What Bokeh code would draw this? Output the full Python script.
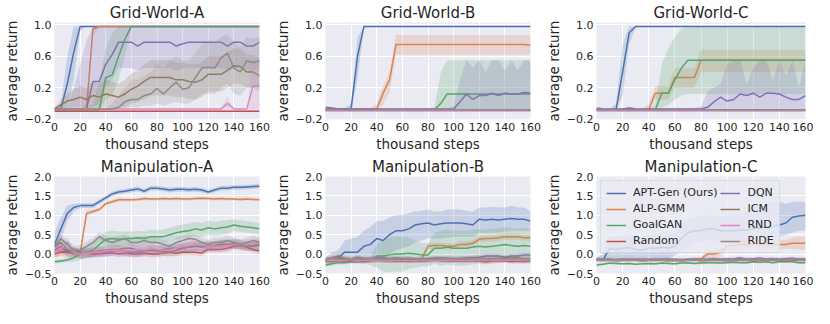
from bokeh.plotting import figure
from bokeh.layouts import row, column
from bokeh.models import FixedTicker, CustomJSTickFormatter, Legend, LegendItem, Range1d
from bokeh.embed import file_html
from bokeh.resources import INLINE

# ---------------- data ----------------
X = [0, 5, 10, 15, 20, 25, 30, 35, 40, 45, 50,
     55, 60, 65, 70, 75, 80, 85, 90, 95, 100, 105,
     110, 115, 120, 125, 130, 135, 140, 145, 150, 155, 160]
X_TICKS = [0, 20, 40, 60, 80, 100, 120, 140, 160]
GRID_Y_TICKS = [-0.2, 0.2, 0.6, 1.0]
MANIP_Y_TICKS = [-0.5, 0.0, 0.5, 1.0, 1.5, 2.0]
KEYS = ["apt", "alp", "goalgan", "random", "dqn", "icm", "rnd", "ride"]
NAMES = ["APT-Gen (Ours)", "ALP-GMM", "GoalGAN", "Random", "DQN", "ICM", "RND", "RIDE"]
COLORS = ["#4C72B0", "#DD8452", "#55A868", "#C44E52", "#8172B3", "#937860", "#DA8BC3", "#8C8C8C"]

# ---- Grid-World-A ----
gwa_mean = {
    "apt": [-0.07, -0.07, 0.25, 0.65, 0.98, 0.98, 0.98, 0.98, 0.98, 0.98, 0.98,
            0.98, 0.98, 0.98, 0.98, 0.98, 0.98, 0.98, 0.98, 0.98, 0.98, 0.98,
            0.98, 0.98, 0.98, 0.98, 0.98, 0.98, 0.98, 0.98, 0.98, 0.98, 0.98],
    "alp": [-0.07, -0.07, -0.07, -0.07, -0.07, -0.07, 0.95, 0.98, 0.98, 0.98, 0.98,
            0.98, 0.98, 0.98, 0.98, 0.98, 0.98, 0.98, 0.98, 0.98, 0.98, 0.98,
            0.98, 0.98, 0.98, 0.98, 0.98, 0.98, 0.98, 0.98, 0.98, 0.98, 0.98],
    "goalgan": [-0.08, -0.08, -0.08, -0.08, -0.08, -0.08, -0.08, -0.08, 0.33, 0.36, 0.6,
                0.82, 0.98, 0.98, 0.98, 0.98, 0.98, 0.98, 0.98, 0.98, 0.98, 0.98,
                0.98, 0.98, 0.98, 0.98, 0.98, 0.98, 0.98, 0.98, 0.98, 0.98, 0.98],
    "random": [-0.1, -0.1, -0.1, -0.1, -0.1, -0.1, -0.1, -0.1, -0.1, -0.1, -0.1,
               -0.1, -0.1, -0.1, -0.1, -0.1, -0.1, -0.1, -0.1, -0.1, -0.1, -0.1,
               -0.1, -0.1, -0.1, -0.1, -0.1, -0.1, -0.1, -0.1, -0.1, -0.1, -0.1],
    "dqn": [-0.07, -0.07, -0.07, -0.07, -0.07, -0.07, 0.28, 0.28, 0.5, 0.62, 0.78,
            0.78, 0.78, 0.73, 0.78, 0.78, 0.78, 0.78, 0.78, 0.73, 0.76, 0.78,
            0.78, 0.78, 0.78, 0.78, 0.78, 0.73, 0.78, 0.78, 0.73, 0.73, 0.78],
    "icm": [-0.07, -0.02, 0.03, 0.05, 0.08, 0.05, 0.1, 0.08, 0.12, 0.1, 0.08,
            0.12, 0.18, 0.22, 0.28, 0.33, 0.33, 0.33, 0.33, 0.3, 0.3, 0.28,
            0.27, 0.3, 0.37, 0.37, 0.37, 0.42, 0.48, 0.47, 0.4, 0.4, 0.35],
    "rnd": [-0.07, -0.07, -0.07, -0.07, -0.07, -0.07, -0.07, -0.07, -0.07, -0.07, -0.07,
            -0.07, -0.07, -0.07, -0.07, -0.07, -0.07, -0.07, -0.07, -0.07, -0.07, -0.07,
            -0.07, -0.07, -0.07, -0.07, -0.07, 0.0, -0.07, -0.07, -0.07, 0.22, 0.22],
    "ride": [-0.07, -0.07, -0.07, -0.07, -0.07, -0.07, -0.07, -0.07, -0.07, -0.07, -0.05,
             0.02, 0.05, 0.05, 0.1, 0.12, 0.19, 0.12, 0.2, 0.27, 0.18, 0.2,
             0.33, 0.45, 0.46, 0.45, 0.58, 0.64, 0.45, 0.4, 0.54, 0.52, 0.54],
}
gwa_lo = {
    "apt": [-0.08, -0.08, -0.05, 0.3, 0.92, 0.98, 0.98, 0.98, 0.98, 0.98, 0.98,
            0.98, 0.98, 0.98, 0.98, 0.98, 0.98, 0.98, 0.98, 0.98, 0.98, 0.98,
            0.98, 0.98, 0.98, 0.98, 0.98, 0.98, 0.98, 0.98, 0.98, 0.98, 0.98],
    "alp": [-0.08, -0.08, -0.08, -0.08, -0.08, -0.08, 0.85, 0.98, 0.98, 0.98, 0.98,
            0.98, 0.98, 0.98, 0.98, 0.98, 0.98, 0.98, 0.98, 0.98, 0.98, 0.98,
            0.98, 0.98, 0.98, 0.98, 0.98, 0.98, 0.98, 0.98, 0.98, 0.98, 0.98],
    "goalgan": [-0.09, -0.09, -0.09, -0.09, -0.09, -0.09, -0.09, -0.09, 0.05, 0.1, 0.3,
                0.6, 0.95, 0.98, 0.98, 0.98, 0.98, 0.98, 0.98, 0.98, 0.98, 0.98,
                0.98, 0.98, 0.98, 0.98, 0.98, 0.98, 0.98, 0.98, 0.98, 0.98, 0.98],
    "dqn": [-0.08, -0.08, -0.08, -0.08, -0.08, -0.08, -0.05, 0.0, 0.2, 0.3, 0.45,
            0.45, 0.45, 0.42, 0.45, 0.45, 0.45, 0.45, 0.45, 0.42, 0.44, 0.45,
            0.45, 0.45, 0.45, 0.45, 0.45, 0.42, 0.45, 0.45, 0.42, 0.42, 0.45],
    "icm": [-0.08, -0.07, -0.06, -0.05, -0.05, -0.06, -0.05, -0.06, -0.05, -0.06, -0.06,
            -0.05, 0.0, 0.02, 0.05, 0.1, 0.1, 0.1, 0.1, 0.08, 0.08, 0.06,
            0.05, 0.08, 0.15, 0.15, 0.15, 0.2, 0.25, 0.25, 0.2, 0.2, 0.15],
    "rnd": [-0.08, -0.08, -0.08, -0.08, -0.08, -0.08, -0.08, -0.08, -0.08, -0.08, -0.08,
            -0.08, -0.08, -0.08, -0.08, -0.08, -0.08, -0.08, -0.08, -0.08, -0.08, -0.08,
            -0.08, -0.08, -0.08, -0.08, -0.08, -0.08, -0.08, -0.08, -0.08, -0.07, -0.07],
    "ride": [-0.08, -0.08, -0.08, -0.08, -0.08, -0.08, -0.08, -0.08, -0.08, -0.08, -0.07,
             -0.06, -0.05, -0.05, -0.03, -0.03, 0.0, -0.03, 0.0, 0.02, 0.0, 0.0,
             0.05, 0.12, 0.12, 0.12, 0.2, 0.25, 0.12, 0.1, 0.2, 0.2, 0.2],
}
gwa_hi = {
    "apt": [-0.06, 0.0, 0.6, 0.98, 0.98, 0.98, 0.98, 0.98, 0.98, 0.98, 0.98,
            0.98, 0.98, 0.98, 0.98, 0.98, 0.98, 0.98, 0.98, 0.98, 0.98, 0.98,
            0.98, 0.98, 0.98, 0.98, 0.98, 0.98, 0.98, 0.98, 0.98, 0.98, 0.98],
    "alp": [-0.06, -0.06, -0.06, -0.06, -0.06, 0.0, 0.98, 0.98, 0.98, 0.98, 0.98,
            0.98, 0.98, 0.98, 0.98, 0.98, 0.98, 0.98, 0.98, 0.98, 0.98, 0.98,
            0.98, 0.98, 0.98, 0.98, 0.98, 0.98, 0.98, 0.98, 0.98, 0.98, 0.98],
    "goalgan": [-0.07, -0.07, -0.07, -0.07, -0.07, -0.07, 0.0, 0.3, 0.7, 0.9, 0.98,
                0.98, 0.98, 0.98, 0.98, 0.98, 0.98, 0.98, 0.98, 0.98, 0.98, 0.98,
                0.98, 0.98, 0.98, 0.98, 0.98, 0.98, 0.98, 0.98, 0.98, 0.98, 0.98],
    "dqn": [-0.06, -0.06, -0.06, 0.2, 0.5, 0.8, 0.98, 0.98, 0.98, 0.98, 0.98,
            0.98, 0.98, 0.98, 0.98, 0.98, 0.98, 0.98, 0.98, 0.98, 0.98, 0.98,
            0.98, 0.98, 0.98, 0.98, 0.98, 0.98, 0.98, 0.98, 0.98, 0.98, 0.98],
    "icm": [-0.06, 0.05, 0.12, 0.18, 0.22, 0.2, 0.28, 0.25, 0.3, 0.28, 0.25,
            0.3, 0.38, 0.42, 0.5, 0.55, 0.55, 0.55, 0.55, 0.52, 0.52, 0.5,
            0.5, 0.52, 0.6, 0.6, 0.6, 0.65, 0.7, 0.7, 0.62, 0.62, 0.58],
    "rnd": [-0.06, -0.06, -0.06, -0.06, -0.06, -0.06, -0.06, -0.06, -0.06, -0.06, -0.06,
            -0.06, -0.06, -0.06, -0.06, -0.06, -0.06, -0.06, -0.06, -0.06, -0.06, -0.06,
            -0.06, -0.06, -0.06, -0.06, -0.06, 0.08, -0.06, -0.06, -0.06, 0.55, 0.55],
    "ride": [-0.06, -0.06, -0.06, -0.06, -0.06, -0.06, -0.06, -0.06, -0.06, 0.0, 0.1,
             0.2, 0.3, 0.3, 0.35, 0.4, 0.5, 0.45, 0.55, 0.6, 0.55, 0.55,
             0.65, 0.75, 0.8, 0.78, 0.85, 0.88, 0.78, 0.72, 0.85, 0.82, 0.85],
}
gwa_half = {"random": 0.01}

# ---- Grid-World-B ----
gwb_mean = {
    "apt": [-0.07, -0.07, -0.07, -0.07, -0.07, 0.6, 0.98, 0.98, 0.98, 0.98, 0.98,
            0.98, 0.98, 0.98, 0.98, 0.98, 0.98, 0.98, 0.98, 0.98, 0.98, 0.98,
            0.98, 0.98, 0.98, 0.98, 0.98, 0.98, 0.98, 0.98, 0.98, 0.98, 0.98],
    "alp": [-0.07, -0.07, -0.07, -0.07, -0.07, -0.07, -0.07, -0.07, -0.07, 0.13, 0.3,
            0.75, 0.75, 0.75, 0.75, 0.75, 0.75, 0.75, 0.75, 0.75, 0.75, 0.75,
            0.75, 0.75, 0.75, 0.75, 0.75, 0.75, 0.75, 0.75, 0.75, 0.75, 0.74],
    "goalgan": [-0.08, -0.08, -0.08, -0.08, -0.08, -0.08, -0.08, -0.08, -0.08, -0.08, -0.08,
                -0.08, -0.08, -0.08, -0.08, -0.08, -0.08, -0.08, 0.0, 0.12, 0.12, 0.12,
                0.12, 0.12, 0.12, 0.12, 0.12, 0.12, 0.12, 0.12, 0.12, 0.12, 0.12],
    "random": [-0.09, -0.09, -0.09, -0.09, -0.09, -0.09, -0.09, -0.09, -0.09, -0.09, -0.09,
               -0.09, -0.09, -0.09, -0.09, -0.09, -0.09, -0.09, -0.09, -0.09, -0.09, -0.09,
               -0.09, -0.09, -0.09, -0.09, -0.09, -0.09, -0.09, -0.09, -0.09, -0.09, -0.09],
    "dqn": [-0.05, -0.06, -0.07, -0.07, -0.07, -0.07, -0.07, -0.07, -0.07, -0.07, -0.07,
            -0.07, -0.07, -0.07, -0.07, -0.07, -0.07, -0.07, -0.07, -0.07, -0.07, 0.02,
            0.12, 0.05, 0.1, 0.1, 0.13, 0.1, 0.13, 0.12, 0.12, 0.14, 0.13],
    "icm": [-0.08, -0.08, -0.08, -0.08, -0.08, -0.08, -0.08, -0.08, -0.08, -0.08, -0.08,
            -0.08, -0.08, -0.08, -0.08, -0.08, -0.08, -0.08, -0.08, -0.08, -0.08, -0.08,
            -0.08, -0.08, -0.08, -0.08, -0.08, -0.08, -0.08, -0.08, -0.08, -0.08, -0.08],
    "rnd": [-0.09, -0.09, -0.09, -0.09, -0.09, -0.09, -0.09, -0.09, -0.09, -0.09, -0.09,
            -0.09, -0.09, -0.09, -0.09, -0.09, -0.09, -0.09, -0.09, -0.09, -0.09, -0.09,
            -0.09, -0.09, -0.09, -0.09, -0.09, -0.09, -0.09, -0.09, -0.09, -0.09, -0.09],
    "ride": [-0.08, -0.08, -0.08, -0.08, -0.08, -0.08, -0.08, -0.08, -0.08, -0.08, -0.08,
             -0.08, -0.08, -0.08, -0.08, -0.08, -0.08, -0.08, -0.08, -0.08, -0.08, -0.08,
             -0.08, -0.08, -0.08, -0.08, -0.08, -0.08, -0.08, -0.08, -0.08, -0.08, -0.08],
}
gwb_lo = {
    "apt": [-0.08, -0.08, -0.08, -0.08, -0.08, 0.3, 0.96, 0.98, 0.98, 0.98, 0.98,
            0.98, 0.98, 0.98, 0.98, 0.98, 0.98, 0.98, 0.98, 0.98, 0.98, 0.98,
            0.98, 0.98, 0.98, 0.98, 0.98, 0.98, 0.98, 0.98, 0.98, 0.98, 0.98],
    "alp": [-0.08, -0.08, -0.08, -0.08, -0.08, -0.08, -0.08, -0.08, -0.08, -0.02, 0.15,
            0.62, 0.62, 0.62, 0.62, 0.62, 0.62, 0.62, 0.62, 0.62, 0.62, 0.62,
            0.62, 0.62, 0.62, 0.62, 0.62, 0.62, 0.62, 0.62, 0.62, 0.62, 0.62],
    "goalgan": [-0.09, -0.09, -0.09, -0.09, -0.09, -0.09, -0.09, -0.09, -0.09, -0.09, -0.09,
                -0.09, -0.09, -0.09, -0.09, -0.09, -0.09, -0.09, -0.09, -0.09, -0.09, -0.09,
                -0.09, -0.09, -0.09, -0.09, -0.09, -0.09, -0.09, -0.09, -0.09, -0.09, -0.09],
    "dqn": [-0.08, -0.08, -0.08, -0.08, -0.08, -0.08, -0.08, -0.08, -0.08, -0.08, -0.08,
            -0.08, -0.08, -0.08, -0.08, -0.08, -0.08, -0.08, -0.08, -0.08, -0.08, -0.08,
            -0.08, -0.08, -0.08, -0.08, -0.08, -0.08, -0.08, -0.08, -0.08, -0.08, -0.08],
}
gwb_hi = {
    "apt": [-0.06, -0.06, -0.06, -0.06, 0.0, 0.85, 0.98, 0.98, 0.98, 0.98, 0.98,
            0.98, 0.98, 0.98, 0.98, 0.98, 0.98, 0.98, 0.98, 0.98, 0.98, 0.98,
            0.98, 0.98, 0.98, 0.98, 0.98, 0.98, 0.98, 0.98, 0.98, 0.98, 0.98],
    "alp": [-0.06, -0.06, -0.06, -0.06, -0.06, -0.06, -0.06, -0.06, 0.0, 0.22, 0.4,
            0.87, 0.87, 0.87, 0.87, 0.87, 0.87, 0.87, 0.87, 0.87, 0.87, 0.87,
            0.87, 0.87, 0.87, 0.87, 0.87, 0.87, 0.87, 0.87, 0.87, 0.87, 0.87],
    "goalgan": [-0.07, -0.07, -0.07, -0.07, -0.07, -0.07, -0.07, -0.07, -0.07, -0.07, -0.07,
                -0.07, -0.07, -0.07, -0.07, -0.07, -0.07, -0.05, 0.4, 0.55, 0.55, 0.55,
                0.55, 0.55, 0.55, 0.55, 0.55, 0.55, 0.55, 0.55, 0.55, 0.55, 0.55],
    "dqn": [-0.04, -0.05, -0.06, -0.06, -0.06, -0.06, -0.06, -0.06, -0.06, -0.06, -0.06,
            -0.06, -0.06, -0.06, -0.06, -0.06, -0.06, -0.06, -0.06, -0.06, -0.04, 0.3,
            0.55, 0.45, 0.55, 0.4, 0.55, 0.55, 0.42, 0.55, 0.42, 0.55, 0.55],
}
gwb_half = {"random": 0.01, "icm": 0.01, "rnd": 0.01, "ride": 0.01}

# ---- Grid-World-C ----
gwc_mean = {
    "apt": [-0.08, -0.08, -0.08, -0.08, 0.4, 0.9, 0.98, 0.98, 0.98, 0.98, 0.98,
            0.98, 0.98, 0.98, 0.98, 0.98, 0.98, 0.98, 0.98, 0.98, 0.98, 0.98,
            0.98, 0.98, 0.98, 0.98, 0.98, 0.98, 0.98, 0.98, 0.98, 0.98, 0.98],
    "alp": [-0.08, -0.08, -0.08, -0.08, -0.08, -0.08, -0.08, -0.08, -0.08, 0.13, 0.13,
            0.13, 0.33, 0.33, 0.33, 0.33, 0.55, 0.55, 0.55, 0.55, 0.55, 0.55,
            0.55, 0.55, 0.55, 0.55, 0.55, 0.55, 0.55, 0.55, 0.55, 0.55, 0.55],
    "goalgan": [-0.08, -0.08, -0.08, -0.08, -0.08, -0.08, -0.08, -0.08, -0.08, -0.08, 0.13,
                0.13, 0.3, 0.45, 0.55, 0.55, 0.55, 0.55, 0.55, 0.55, 0.55, 0.55,
                0.55, 0.55, 0.55, 0.55, 0.55, 0.55, 0.55, 0.55, 0.55, 0.55, 0.55],
    "random": [-0.09, -0.09, -0.09, -0.09, -0.09, -0.09, -0.09, -0.09, -0.09, -0.09, -0.09,
               -0.09, -0.09, -0.09, -0.09, -0.09, -0.09, -0.09, -0.09, -0.09, -0.09, -0.09,
               -0.09, -0.09, -0.09, -0.09, -0.09, -0.09, -0.09, -0.09, -0.09, -0.09, -0.09],
    "dqn": [-0.06, -0.07, -0.07, -0.07, -0.07, -0.06, -0.07, -0.07, -0.07, -0.07, -0.07,
            -0.07, -0.07, -0.07, -0.07, -0.07, -0.07, -0.05, 0.02, 0.08, 0.03, 0.05,
            0.12, 0.1, 0.13, 0.08, 0.13, 0.13, 0.12, 0.08, 0.05, 0.05, 0.1],
    "icm": [-0.08, -0.08, -0.08, -0.08, -0.08, -0.08, -0.08, -0.08, -0.08, -0.08, -0.08,
            -0.08, -0.08, -0.08, -0.08, -0.08, -0.08, -0.08, -0.08, -0.08, -0.08, -0.08,
            -0.08, -0.08, -0.08, -0.08, -0.08, -0.08, -0.08, -0.08, -0.08, -0.08, -0.08],
    "rnd": [-0.09, -0.09, -0.09, -0.09, -0.09, -0.09, -0.09, -0.09, -0.09, -0.09, -0.09,
            -0.09, -0.09, -0.09, -0.09, -0.09, -0.09, -0.09, -0.09, -0.09, -0.09, -0.09,
            -0.09, -0.09, -0.09, -0.09, -0.09, -0.09, -0.09, -0.09, -0.09, -0.09, -0.09],
    "ride": [-0.08, -0.08, -0.08, -0.08, -0.08, -0.08, -0.08, -0.08, -0.08, -0.08, -0.08,
             -0.08, -0.08, -0.08, -0.08, -0.08, -0.08, -0.08, -0.08, -0.08, -0.08, -0.08,
             -0.08, -0.08, -0.08, -0.08, -0.08, -0.08, -0.08, -0.08, -0.08, -0.08, -0.08],
}
gwc_lo = {
    "apt": [-0.09, -0.09, -0.09, -0.09, 0.1, 0.75, 0.98, 0.98, 0.98, 0.98, 0.98,
            0.98, 0.98, 0.98, 0.98, 0.98, 0.98, 0.98, 0.98, 0.98, 0.98, 0.98,
            0.98, 0.98, 0.98, 0.98, 0.98, 0.98, 0.98, 0.98, 0.98, 0.98, 0.98],
    "alp": [-0.09, -0.09, -0.09, -0.09, -0.09, -0.09, -0.09, -0.09, -0.09, 0.05, 0.05,
            0.05, 0.2, 0.2, 0.2, 0.2, 0.4, 0.4, 0.4, 0.4, 0.4, 0.4,
            0.4, 0.4, 0.4, 0.4, 0.4, 0.4, 0.4, 0.4, 0.4, 0.4, 0.4],
    "goalgan": [-0.09, -0.09, -0.09, -0.09, -0.09, -0.09, -0.09, -0.09, -0.09, -0.09, -0.05,
                -0.02, 0.05, 0.1, 0.12, 0.12, 0.12, 0.12, 0.12, 0.12, 0.12, 0.12,
                0.12, 0.12, 0.12, 0.12, 0.12, 0.12, 0.12, 0.12, 0.12, 0.12, 0.12],
    "dqn": [-0.08, -0.08, -0.08, -0.08, -0.08, -0.08, -0.08, -0.08, -0.08, -0.08, -0.08,
            -0.08, -0.08, -0.08, -0.08, -0.08, -0.08, -0.08, -0.08, -0.08, -0.08, -0.08,
            -0.08, -0.08, -0.08, -0.08, -0.08, -0.08, -0.08, -0.08, -0.08, -0.08, -0.08],
}
gwc_hi = {
    "apt": [-0.07, -0.07, -0.07, 0.0, 0.75, 0.98, 0.98, 0.98, 0.98, 0.98, 0.98,
            0.98, 0.98, 0.98, 0.98, 0.98, 0.98, 0.98, 0.98, 0.98, 0.98, 0.98,
            0.98, 0.98, 0.98, 0.98, 0.98, 0.98, 0.98, 0.98, 0.98, 0.98, 0.98],
    "alp": [-0.07, -0.07, -0.07, -0.07, -0.07, -0.07, -0.07, -0.07, 0.0, 0.22, 0.22,
            0.22, 0.45, 0.45, 0.45, 0.45, 0.68, 0.68, 0.68, 0.68, 0.68, 0.68,
            0.68, 0.68, 0.68, 0.68, 0.68, 0.68, 0.68, 0.68, 0.68, 0.68, 0.68],
    "goalgan": [-0.07, -0.07, -0.07, -0.07, -0.07, -0.07, -0.07, -0.07, -0.07, 0.0, 0.5,
                0.7, 0.85, 0.95, 0.98, 0.98, 0.98, 0.98, 0.98, 0.98, 0.98, 0.98,
                0.98, 0.98, 0.98, 0.98, 0.98, 0.98, 0.98, 0.98, 0.98, 0.98, 0.98],
    "dqn": [-0.05, -0.06, -0.06, -0.06, -0.06, -0.05, -0.06, -0.06, -0.06, -0.06, -0.06,
            -0.06, -0.06, -0.06, -0.06, -0.06, -0.04, 0.15, 0.2, 0.25, 0.5, 0.55,
            0.55, 0.25, 0.45, 0.55, 0.55, 0.3, 0.55, 0.35, 0.55, 0.2, 0.55],
}
gwc_half = {"random": 0.01, "icm": 0.01, "rnd": 0.01, "ride": 0.01}

# ---- Manipulation-A ----
ma_mean = {
    "apt": [0.25, 0.65, 1.05, 1.2, 1.25, 1.25, 1.25, 1.35, 1.45, 1.55, 1.6,
            1.62, 1.65, 1.68, 1.62, 1.7, 1.7, 1.68, 1.65, 1.67, 1.67, 1.66,
            1.67, 1.65, 1.6, 1.65, 1.7, 1.7, 1.72, 1.72, 1.73, 1.74, 1.75],
    "alp": [0.05, 0.1, 0.05, 0.0, 0.02, 1.05, 1.1, 1.15, 1.3, 1.35, 1.4,
            1.4, 1.4, 1.41, 1.43, 1.42, 1.42, 1.43, 1.42, 1.43, 1.42, 1.42,
            1.43, 1.44, 1.43, 1.42, 1.43, 1.42, 1.42, 1.41, 1.42, 1.41, 1.4],
    "goalgan": [-0.2, -0.18, -0.15, -0.1, 0.0, 0.05, 0.1, 0.25, 0.38, 0.4, 0.38,
                0.4, 0.4, 0.42, 0.4, 0.45, 0.45, 0.45, 0.5, 0.55, 0.58, 0.6,
                0.65, 0.62, 0.68, 0.65, 0.68, 0.7, 0.75, 0.72, 0.7, 0.68, 0.65],
    "random": [0.0, 0.05, 0.05, 0.1, 0.05, 0.02, 0.0, 0.0, 0.02, 0.03, 0.0,
               0.02, 0.0, 0.0, 0.02, 0.0, 0.0, 0.03, 0.05, 0.02, 0.05, 0.05,
               0.05, 0.03, 0.12, 0.12, 0.12, 0.15, 0.2, 0.22, 0.18, 0.12, 0.08],
    "dqn": [0.1, 0.2, 0.05, 0.05, 0.0, 0.02, 0.05, 0.05, 0.05, 0.08, 0.1,
            0.08, 0.05, 0.05, 0.08, 0.1, 0.1, 0.12, 0.15, 0.15, 0.15, 0.18,
            0.2, 0.18, 0.2, 0.22, 0.25, 0.25, 0.28, 0.25, 0.2, 0.22, 0.25],
    "icm": [0.2, 0.3, 0.1, 0.05, 0.02, 0.03, 0.05, 0.08, 0.1, 0.12, 0.12,
            0.15, 0.15, 0.1, 0.1, 0.1, 0.08, 0.08, 0.05, 0.1, 0.15, 0.18,
            0.2, 0.2, 0.22, 0.2, 0.25, 0.25, 0.25, 0.22, 0.2, 0.2, 0.22],
    "rnd": [0.05, 0.15, 0.3, 0.05, 0.0, 0.02, 0.05, 0.05, 0.08, 0.1, 0.1,
            0.08, 0.1, 0.12, 0.1, 0.15, 0.12, 0.1, 0.12, 0.15, 0.2, 0.22,
            0.25, 0.22, 0.2, 0.2, 0.2, 0.22, 0.25, 0.25, 0.25, 0.28, 0.3],
    "ride": [0.2, 0.4, 0.25, 0.1, 0.1, 0.2, 0.3, 0.45, 0.35, 0.3, 0.35,
             0.4, 0.3, 0.3, 0.35, 0.3, 0.3, 0.25, 0.2, 0.3, 0.35, 0.4,
             0.38, 0.3, 0.25, 0.3, 0.3, 0.35, 0.3, 0.25, 0.3, 0.35, 0.3],
}
ma_lo = {}
ma_hi = {}
ma_half = {
    "apt": [0.3, 0.3, 0.2, 0.1, 0.06, 0.06, 0.06, 0.06, 0.06, 0.06, 0.06,
            0.06, 0.06, 0.06, 0.06, 0.06, 0.06, 0.06, 0.06, 0.06, 0.06, 0.06,
            0.06, 0.06, 0.06, 0.06, 0.06, 0.06, 0.06, 0.06, 0.06, 0.06, 0.06],
    "alp": [0.15, 0.15, 0.15, 0.1, 0.1, 0.1, 0.05, 0.05, 0.05, 0.05, 0.05,
            0.04, 0.04, 0.04, 0.04, 0.04, 0.04, 0.04, 0.04, 0.04, 0.04, 0.04,
            0.04, 0.04, 0.04, 0.04, 0.04, 0.04, 0.04, 0.04, 0.04, 0.04, 0.04],
    "goalgan": [0.05, 0.05, 0.05, 0.1, 0.15, 0.15, 0.2, 0.2, 0.2, 0.2, 0.2,
                0.18, 0.18, 0.18, 0.18, 0.18, 0.18, 0.18, 0.18, 0.18, 0.18, 0.18,
                0.18, 0.18, 0.18, 0.18, 0.18, 0.18, 0.15, 0.15, 0.15, 0.15, 0.15],
    "random": 0.08, "dqn": 0.12, "icm": 0.12, "rnd": 0.12, "ride": 0.12,
}

# ---- Manipulation-B ----
mb_mean = {
    "apt": [-0.2, -0.15, -0.1, 0.05, 0.05, 0.05, 0.2, 0.25, 0.4, 0.35, 0.5,
            0.6, 0.6, 0.65, 0.75, 0.78, 0.8, 0.75, 0.78, 0.8, 0.8, 0.8,
            0.78, 0.75, 0.9, 0.88, 0.9, 0.88, 0.9, 0.92, 0.9, 0.9, 0.85],
    "alp": [-0.15, -0.15, -0.12, -0.15, -0.15, -0.15, -0.15, -0.15, -0.15, -0.12, -0.15,
            -0.15, -0.15, -0.15, -0.15, -0.12, 0.2, 0.22, 0.22, 0.2, 0.2, 0.25,
            0.25, 0.28, 0.38, 0.4, 0.4, 0.42, 0.45, 0.45, 0.45, 0.42, 0.42],
    "goalgan": [-0.28, -0.25, -0.22, -0.22, -0.2, -0.2, -0.2, -0.18, -0.05, -0.05, -0.02,
                0.0, 0.0, 0.02, 0.0, -0.02, -0.02, 0.15, 0.15, 0.18, 0.15, 0.15,
                0.15, 0.18, 0.2, 0.18, 0.2, 0.22, 0.25, 0.22, 0.2, 0.22, 0.2],
    "random": [-0.17, -0.18, -0.17, -0.18, -0.17, -0.18, -0.18, -0.17, -0.16, -0.17, -0.18,
               -0.17, -0.18, -0.18, -0.17, -0.18, -0.17, -0.16, -0.17, -0.18, -0.18, -0.17,
               -0.18, -0.17, -0.18, -0.2, -0.18, -0.17, -0.18, -0.19, -0.18, -0.19, -0.18],
    "dqn": [-0.15, -0.15, -0.1, -0.12, -0.15, -0.15, -0.15, -0.12, -0.1, -0.1, -0.12,
            -0.1, -0.12, -0.12, -0.15, -0.15, -0.12, -0.1, -0.1, -0.12, -0.12, -0.12,
            -0.1, -0.1, -0.08, -0.05, -0.05, -0.05, -0.08, -0.05, -0.05, -0.02, -0.02],
    "icm": [-0.15, -0.1, -0.05, -0.12, -0.15, -0.08, -0.12, -0.15, -0.12, -0.12, -0.15,
            -0.15, -0.12, -0.12, -0.15, -0.15, -0.15, -0.12, -0.12, -0.12, -0.12, -0.12,
            -0.12, -0.1, -0.1, -0.12, -0.12, -0.12, -0.1, -0.1, -0.1, -0.12, -0.12],
    "rnd": [-0.18, -0.15, -0.17, -0.16, -0.15, -0.17, -0.16, -0.15, -0.16, -0.16, -0.17,
            -0.16, -0.15, -0.16, -0.17, -0.16, -0.16, -0.15, -0.16, -0.16, -0.15, -0.16,
            -0.15, -0.16, -0.15, -0.15, -0.16, -0.15, -0.16, -0.15, -0.16, -0.16, -0.15],
    "ride": [-0.15, -0.1, -0.12, -0.13, -0.15, -0.1, -0.13, -0.12, -0.12, -0.13, -0.12,
             -0.12, -0.13, -0.12, -0.13, -0.12, -0.12, -0.13, -0.12, -0.11, -0.12, -0.12,
             -0.12, -0.12, -0.11, -0.12, -0.12, -0.11, -0.12, -0.12, -0.12, -0.12, -0.12],
}
mb_lo = {
    "apt": [-0.3, -0.25, -0.25, -0.2, -0.2, -0.2, -0.15, -0.1, -0.05, -0.1, 0.0,
            0.1, 0.15, 0.2, 0.3, 0.35, 0.4, 0.4, 0.4, 0.42, 0.45, 0.45,
            0.45, 0.45, 0.55, 0.55, 0.55, 0.55, 0.58, 0.6, 0.6, 0.6, 0.6],
}
mb_hi = {
    "apt": [-0.1, 0.05, 0.1, 0.35, 0.4, 0.45, 0.6, 0.7, 0.85, 0.85, 0.95,
            1.0, 1.0, 1.05, 1.1, 1.12, 1.15, 1.1, 1.1, 1.15, 1.15, 1.15,
            1.12, 1.1, 1.2, 1.2, 1.22, 1.2, 1.2, 1.25, 1.2, 1.2, 1.1],
}
mb_half = {
    "alp": 0.08,
    "goalgan": [0.05, 0.05, 0.05, 0.05, 0.05, 0.05, 0.05, 0.1, 0.3, 0.4, 0.45,
                0.45, 0.45, 0.4, 0.35, 0.3, 0.3, 0.4, 0.45, 0.45, 0.45, 0.45,
                0.45, 0.45, 0.45, 0.45, 0.45, 0.45, 0.45, 0.45, 0.45, 0.45, 0.45],
    "random": 0.05, "dqn": 0.06, "icm": 0.06, "rnd": 0.05, "ride": 0.05,
}

# ---- Manipulation-C ----
mc_mean = {
    "apt": [-0.15, -0.15, 0.15, 0.12, 0.15, 0.17, 0.12, 0.1, 0.15, 0.15, 0.18,
            0.15, 0.2, 0.4, 0.55, 0.6, 0.6, 0.65, 0.65, 0.6, 0.6, 0.6,
            0.62, 0.62, 0.65, 0.68, 0.7, 0.72, 0.75, 0.8, 0.95, 0.98, 1.0],
    "alp": [-0.15, -0.15, -0.15, -0.15, -0.15, -0.15, -0.15, -0.15, -0.15, -0.15, -0.15,
            -0.15, -0.15, -0.15, -0.15, -0.15, -0.12, 0.0, 0.0, 0.05, 0.2, 0.22,
            0.25, 0.25, 0.25, 0.24, 0.25, 0.25, 0.25, 0.25, 0.28, 0.28, 0.28],
    "goalgan": [-0.28, -0.26, -0.23, -0.24, -0.25, -0.24, -0.26, -0.25, -0.24, -0.25, -0.23,
                -0.24, -0.25, -0.23, -0.22, -0.24, -0.23, -0.22, -0.22, -0.23, -0.22, -0.21,
                -0.22, -0.22, -0.2, -0.21, -0.2, -0.22, -0.2, -0.2, -0.2, -0.22, -0.22],
    "random": [-0.15, -0.16, -0.15, -0.17, -0.16, -0.15, -0.16, -0.17, -0.16, -0.15, -0.16,
               -0.17, -0.16, -0.17, -0.16, -0.15, -0.17, -0.16, -0.15, -0.16, -0.17, -0.16,
               -0.15, -0.16, -0.17, -0.15, -0.16, -0.15, -0.16, -0.17, -0.16, -0.15, -0.16],
    "dqn": [-0.12, -0.14, -0.13, -0.15, -0.14, -0.13, -0.14, -0.15, -0.14, -0.13, -0.14,
            -0.13, -0.14, -0.15, -0.14, -0.13, -0.14, -0.13, -0.12, -0.14, -0.13, -0.12,
            -0.1, -0.13, -0.12, -0.11, -0.13, -0.12, -0.13, -0.12, -0.11, -0.13, -0.12],
    "icm": [-0.14, -0.15, -0.14, -0.15, -0.16, -0.15, -0.14, -0.15, -0.16, -0.15, -0.14,
            -0.15, -0.16, -0.15, -0.14, -0.15, -0.14, -0.15, -0.16, -0.15, -0.14, -0.15,
            -0.14, -0.15, -0.14, -0.12, -0.15, -0.14, -0.15, -0.14, -0.15, -0.14, -0.15],
    "rnd": [-0.15, -0.14, -0.15, -0.16, -0.15, -0.14, -0.15, -0.14, -0.15, -0.16, -0.15,
            -0.14, -0.15, -0.16, -0.15, -0.14, -0.15, -0.14, -0.15, -0.14, -0.15, -0.14,
            -0.15, -0.14, -0.15, -0.14, -0.15, -0.14, -0.13, -0.15, -0.14, -0.15, -0.14],
    "ride": [-0.13, -0.14, -0.15, -0.14, -0.13, -0.15, -0.14, -0.13, -0.14, -0.15, -0.14,
             -0.13, -0.14, -0.15, -0.14, -0.13, -0.14, -0.15, -0.14, -0.13, -0.14, -0.15,
             -0.14, -0.13, -0.14, -0.15, -0.14, -0.13, -0.14, -0.13, -0.14, -0.15, -0.14],
}
mc_lo = {
    "apt": [-0.2, -0.2, -0.1, -0.1, -0.1, -0.1, -0.1, -0.1, -0.1, -0.1, -0.1,
            -0.1, -0.05, 0.1, 0.2, 0.3, 0.3, 0.35, 0.35, 0.3, 0.3, 0.3,
            0.3, 0.3, 0.35, 0.4, 0.45, 0.45, 0.45, 0.5, 0.55, 0.6, 0.6],
}
mc_hi = {
    "apt": [-0.1, 0.0, 0.45, 0.45, 0.5, 0.5, 0.45, 0.45, 0.5, 0.5, 0.55,
            0.55, 0.6, 0.75, 0.9, 0.95, 1.0, 1.0, 1.0, 0.95, 1.0, 1.05,
            1.05, 1.1, 1.2, 1.25, 1.3, 1.35, 1.35, 1.3, 1.35, 1.35, 1.35],
}
mc_half = {
    "alp": [0.03, 0.03, 0.03, 0.03, 0.03, 0.03, 0.03, 0.03, 0.03, 0.03, 0.03,
            0.03, 0.03, 0.03, 0.03, 0.03, 0.05, 0.1, 0.1, 0.1, 0.12, 0.12,
            0.12, 0.12, 0.12, 0.12, 0.12, 0.12, 0.12, 0.12, 0.15, 0.17, 0.17],
    "goalgan": 0.03, "random": 0.04, "dqn": 0.04, "icm": 0.04, "rnd": 0.04, "ride": 0.04,
}

PANELS = [
    ("Grid-World-A", gwa_mean, gwa_lo, gwa_hi, gwa_half, "grid"),
    ("Grid-World-B", gwb_mean, gwb_lo, gwb_hi, gwb_half, "grid"),
    ("Grid-World-C", gwc_mean, gwc_lo, gwc_hi, gwc_half, "grid"),
    ("Manipulation-A", ma_mean, ma_lo, ma_hi, ma_half, "manip"),
    ("Manipulation-B", mb_mean, mb_lo, mb_hi, mb_half, "manip"),
    ("Manipulation-C", mc_mean, mc_lo, mc_hi, mc_half, "manip"),
]

# ---------------- drawing ----------------
FONT = "DejaVu Sans"
TXT = "#262626"
FMT = CustomJSTickFormatter(code="""
    const s = Math.abs(tick).toFixed(1);
    return (tick < -1e-9 ? '\\u2212' : '') + s;
""")


def band(m, lo, hi, half, key):
    if key in lo:
        return lo[key], hi[key]
    h = half.get(key, 0.01)
    hs = h if isinstance(h, list) else [h for _ in m]
    return [a - d for a, d in zip(m, hs)], [a + d for a, d in zip(m, hs)]


figs = []
for idx, (title, mean, lo, hi, half, kind) in enumerate(PANELS):
    col = idx % 3
    if kind == "grid":
        yr = Range1d(-0.205, 1.03)
        yt = GRID_Y_TICKS
    else:
        yr = Range1d(-0.5, 2.0)
        yt = MANIP_Y_TICKS
    p = figure(width=271, height=154, x_range=Range1d(0, 160), y_range=yr,
               output_backend="svg", toolbar_location=None,
               min_border_left=44, min_border_right=12 if col < 2 else 8,
               min_border_top=2, min_border_bottom=4)
    p.title.text = title
    p.title.align = "center"
    p.title.text_font = FONT
    p.title.text_font_size = "15px"
    p.title.text_font_style = "normal"
    p.title.text_color = TXT
    p.title.standoff = 2
    p.background_fill_color = "#EAEAF2"
    p.border_fill_color = "white"
    p.outline_line_color = None
    p.xgrid.grid_line_color = "white"
    p.ygrid.grid_line_color = "white"
    p.xgrid.grid_line_width = 1
    p.ygrid.grid_line_width = 1
    p.xaxis.ticker = FixedTicker(ticks=X_TICKS)
    p.yaxis.ticker = FixedTicker(ticks=yt)
    p.yaxis.formatter = FMT
    for ax, lab in ((p.xaxis, "thousand steps"), (p.yaxis, "average return")):
        ax.axis_label = lab
        ax.axis_label_text_font = FONT
        ax.axis_label_text_font_size = "13.5px"
        ax.axis_label_text_font_style = "normal"
        ax.axis_label_text_color = TXT
        ax.axis_label_standoff = 2
        ax.major_label_text_font = FONT
        ax.major_label_text_font_size = "11px"
        ax.major_label_text_color = TXT
        ax.major_label_standoff = 3
        ax.axis_line_color = None
        ax.major_tick_line_color = None
        ax.minor_tick_line_color = None
        ax.major_tick_out = 0
        ax.major_tick_in = 0
        ax.minor_tick_out = 0
        ax.minor_tick_in = 0
    lines = []
    for key, color in zip(KEYS, COLORS):
        m = mean[key]
        l, h = band(m, lo, hi, half, key)
        p.varea(x=X, y1=l, y2=h, fill_color=color, fill_alpha=0.22)
        r = p.line(X, m, line_color=color, line_width=1.5)
        lines.append(r)
    if title == "Manipulation-C":
        items = [LegendItem(label=n, renderers=[r]) for n, r in zip(NAMES, lines)]
        lg = Legend(items=items, location="top_left", ncols=2)
        lg.label_text_font = FONT
        lg.label_text_font_size = "11px"
        lg.label_text_color = TXT
        lg.glyph_width = 20
        lg.glyph_height = 12
        lg.label_height = 12
        lg.label_standoff = 7
        lg.spacing = 3
        lg.padding = 5
        lg.margin = 4
        lg.background_fill_color = "#EAEAF2"
        lg.background_fill_alpha = 0.8
        lg.border_line_color = "#CCCCCC"
        lg.border_line_width = 1
        p.add_layout(lg)
    figs.append(p)

layout = column(row(*figs[:3]), row(*figs[3:]))
open("out.html", "w").write(file_html(layout, INLINE))
